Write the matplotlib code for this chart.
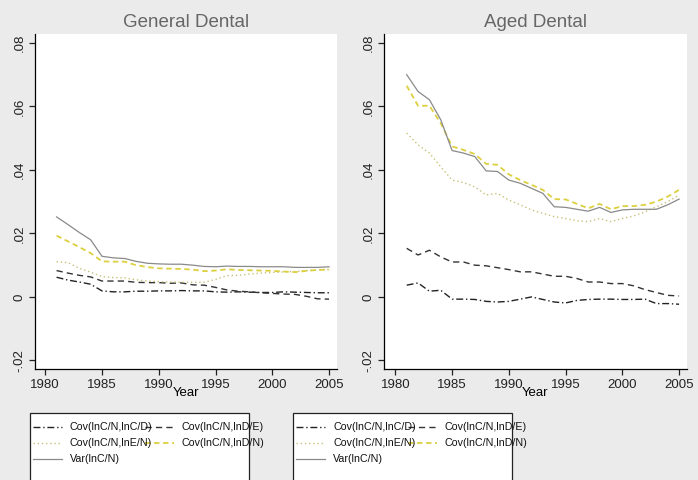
import matplotlib
matplotlib.use("Agg")
import matplotlib.pyplot as plt
from matplotlib.lines import Line2D
from matplotlib.patches import Rectangle

# Datos: años y series por panel
años = list(range(1981, 2006))

# General Dental
gen_cov_cd = [.0062, .0053, .0047, .0040, .0019, .0016, .0016, .0018, .0018, .0019,
              .0019, .0020, .0019, .0019, .0016, .0015, .0016, .0015, .0014, .0014,
              .0016, .0015, .0014, .0013, .0013]
gen_cov_de = [.0083, .0075, .0068, .0063, .0050, .0050, .0050, .0046, .0045, .0045,
              .0043, .0044, .0038, .0037, .0030, .0022, .0018, .0016, .0013, .0011,
              .0009, .0008, .0002, -.0006, -.0007]
gen_cov_en = [.0111, .0108, .0090, .0078, .0064, .0061, .0060, .0054, .0050, .0048,
              .0047, .0046, .0046, .0046, .0055, .0067, .0068, .0072, .0075, .0077,
              .0079, .0080, .0083, .0085, .0087]
gen_cov_dn = [.0193, .0175, .0157, .0138, .0112, .0111, .0111, .0100, .0094, .0090,
              .0089, .0088, .0086, .0081, .0083, .0087, .0085, .0084, .0083, .0082,
              .0080, .0078, .0082, .0085, .0086]
gen_var = [.0252, .0228, .0203, .0180, .0128, .0123, .0121, .0112, .0106, .0104,
           .0103, .0103, .0100, .0096, .0095, .0097, .0096, .0096, .0095, .0095,
           .0095, .0093, .0093, .0093, .0095]

# Aged Dental
aged_cov_cd = [.0037, .0044, .0018, .0021, -.0007, -.0007, -.0008, -.0014, -.0016, -.0014,
               -.0007, .0000, -.0008, -.0016, -.0019, -.0011, -.0008, -.0007, -.0007, -.0008,
               -.0008, -.0007, -.0021, -.0021, -.0023]
aged_cov_de = [.0153, .0132, .0147, .0126, .0110, .0110, .0100, .0098, .0092, .0086,
               .0079, .0079, .0072, .0065, .0065, .0058, .0047, .0047, .0042, .0042,
               .0035, .0023, .0014, .0005, .0003]
aged_cov_en = [.0516, .0479, .0453, .0410, .0368, .0360, .0347, .0321, .0326, .0305,
               .0290, .0274, .0263, .0253, .0247, .0240, .0237, .0247, .0237, .0247,
               .0255, .0268, .0284, .0300, .0321]
aged_cov_dn = [.0665, .0602, .0602, .0547, .0474, .0463, .0450, .0419, .0416, .0386,
               .0368, .0353, .0337, .0308, .0307, .0293, .0279, .0293, .0276, .0286,
               .0286, .0290, .0300, .0316, .0337]
aged_var = [.0700, .0647, .0621, .0558, .0461, .0453, .0442, .0397, .0395, .0368,
            .0358, .0342, .0326, .0284, .0282, .0276, .0270, .0282, .0266, .0274,
            .0276, .0276, .0276, .0290, .0308]

titulos = ["General Dental", "Aged Dental"]
etiquetas = ["Cov(lnC/N,lnC/D)", "Cov(lnC/N,lnD/E)", "Cov(lnC/N,lnE/N)",
             "Cov(lnC/N,lnD/N)", "Var(lnC/N)"]
yticks = [-0.02, 0, 0.02, 0.04, 0.06, 0.08]
yticklabels = ["-.02", "0", ".02", ".04", ".06", ".08"]
xticks = [1980, 1985, 1990, 1995, 2000, 2005]

# Estilos de línea (tipo Stata)
estilos = [
    dict(color="#222222", lw=1.0, dashes=(5, 2, 1, 2)),
    dict(color="#333333", lw=1.0, dashes=(4.5, 3)),
    dict(color="#c8c078", lw=1.0, dashes=(1, 2)),
    dict(color="#ddd040", lw=1.3, dashes=(3, 2)),
    dict(color="#8a8a8a", lw=0.9),
]

W, H = 698, 480
plt.rcParams["font.family"] = ["Liberation Sans", "DejaVu Sans"]

fig = plt.figure(figsize=(W / 100, H / 100), dpi=100, facecolor="#ebebeb")

paneles = [
    (35, 337, (1979.1, 2005.7), [gen_cov_cd, gen_cov_de, gen_cov_en, gen_cov_dn, gen_var]),
    (384, 687, (1979.0, 2005.7), [aged_cov_cd, aged_cov_de, aged_cov_en, aged_cov_dn, aged_var]),
]

for k, (x0, x1, xlim, series) in enumerate(paneles):
    ax = fig.add_axes([x0 / W, (H - 369) / H, (x1 - x0) / W, 335 / H])
    ax.set_facecolor("white")
    for datos, est in zip(series, estilos):
        ax.plot(años, datos, **est)
    ax.set_xlim(*xlim)
    ax.set_ylim(-0.0227, 0.0828)
    ax.set_xticks(xticks)
    ax.set_xticklabels([str(t) for t in xticks], fontsize=9.5)
    ax.set_yticks(yticks)
    ax.set_yticklabels(yticklabels, fontsize=9.5, rotation=90, va="center")
    ax.tick_params(direction="out", length=4, width=0.9, pad=3, colors="#222222")
    for s in ["top", "right"]:
        ax.spines[s].set_visible(False)
    for s in ["left", "bottom"]:
        ax.spines[s].set_linewidth(0.9)
    ax.set_xlabel("Year", fontsize=9.5, labelpad=-2.5)
    ax.set_title(titulos[k], fontsize=13.5, color="#666666", pad=5)

    # Leyenda manual (el texto se sale del recuadro, como en el original)
    off = 0 if k == 0 else 263
    fig.add_artist(Rectangle(((30 + off) / W, -0.02), 219 / W, 0.02 + (H - 413) / H,
                             transform=fig.transFigure, facecolor="white",
                             edgecolor="#222222", lw=0.9))
    pos = [(33, 427), (145, 427), (33, 443), (145, 443), (33, 459)]
    for (px, py), est, txt in zip(pos, estilos, etiquetas):
        fig.add_artist(Line2D([(px + off) / W, (px + off + 29) / W], [1 - py / H] * 2,
                              transform=fig.transFigure, **est))
        fig.text((px + off + 37) / W, 1 - py / H, txt, fontsize=7.7,
                 va="center", ha="left", color="#111111")

fig.savefig("out.png", dpi=100, facecolor=fig.get_facecolor())
